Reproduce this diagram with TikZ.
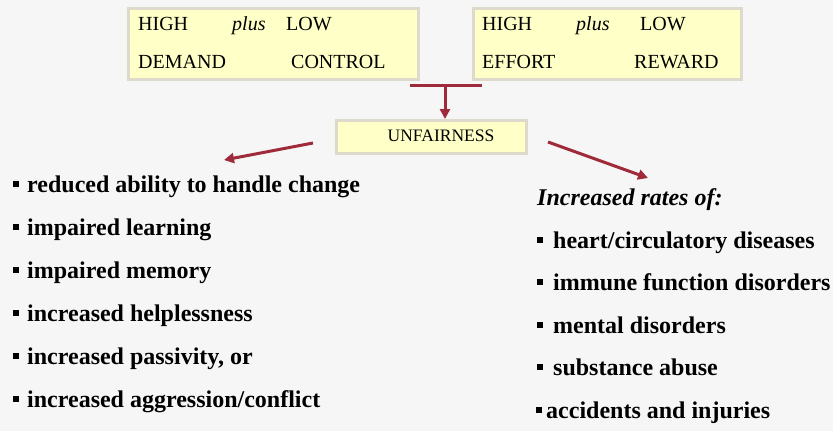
\documentclass[tikz,border=0pt]{standalone}
\usepackage{fontspec}
\setmainfont{Liberation Serif}
\usetikzlibrary{arrows.meta}
\definecolor{bgpaper}{HTML}{F6F6F6}
\definecolor{boxfill}{HTML}{FFFFC8}
\definecolor{boxedge}{HTML}{DEDACB}
\definecolor{linkred}{HTML}{9E2A3A}
\newcommand{\sqbullet}{\rule[5pt]{6pt}{6pt}}
\tikzset{
  x=1pt, y=-1pt,
  causebox/.style={draw=boxedge, line width=2.5pt, fill=boxfill, inner sep=0pt, anchor=north west},
  boxword/.style={anchor=base west, inner sep=0pt, font=\fontsize{20}{24}\selectfont},
  smallword/.style={anchor=center, inner sep=0pt, font=\fontsize{17.5}{21}\selectfont},
  item/.style={anchor=base west, inner sep=0pt, font=\fontsize{24}{28}\selectfont\bfseries},
  link/.style={draw=linkred, line width=3pt},
  linkarrow/.style={link, -{Triangle[length=10pt,width=10pt]}},
}
\begin{document}
\begin{tikzpicture}
\fill[bgpaper] (0,0) rectangle (833,431);
\useasboundingbox (0,0) rectangle (833,431);

% top boxes
\node[causebox, minimum width=290pt, minimum height=71pt] (dc) at (127,7) {};
\node[causebox, minimum width=268pt, minimum height=71pt] (er) at (472,7) {};

\node[boxword] (dchigh) at (138,30) {HIGH};
\node[boxword] (dcplus) at (232,30) {\itshape plus};
\node[boxword] (dclow) at (286,30) {LOW};
\node[boxword] (dcdemand) at (138,68) {DEMAND};
\node[boxword] (dccontrol) at (291,68) {CONTROL};

\node[boxword] (erhigh) at (482,30) {HIGH};
\node[boxword] (erplus) at (576,30) {\itshape plus};
\node[boxword] (erlow) at (640,30) {LOW};
\node[boxword] (ereffort) at (482,68) {EFFORT};
\node[boxword] (erreward) at (634,68) {REWARD};

% joining bar and drop arrow
\coordinate (barw) at (410,85);
\coordinate (bare) at (482,85);
\coordinate (barmid) at (445,85);
\node[causebox, minimum width=190pt, minimum height=33pt] (unf) at (335,119) {};
\node[smallword] (unftext) at (441,136) {UNFAIRNESS};
\draw[link] (barw) -- (bare);
\draw[linkarrow] (barmid) -- (barmid |- unf.north);

% branching arrows
\coordinate (lstart) at (313,143);
\coordinate (lend) at (224,160);
\coordinate (rstart) at (548,142);
\coordinate (rend) at (648,178);
\draw[linkarrow] (lstart) -- (lend);
\draw[linkarrow] (rstart) -- (rend);

% left list
\node[item] (l1) at (13,192) {\sqbullet\hspace{8pt}reduced ability to handle change};
\node[item] (l2) at (13,235) {\sqbullet\hspace{8pt}impaired learning};
\node[item] (l3) at (13,278) {\sqbullet\hspace{8pt}impaired memory};
\node[item] (l4) at (13,321) {\sqbullet\hspace{8pt}increased helplessness};
\node[item] (l5) at (13,364) {\sqbullet\hspace{8pt}increased passivity, or};
\node[item] (l6) at (13,407) {\sqbullet\hspace{8pt}increased aggression/conflict};

% right list
\node[item] (rhead) at (537,205) {\itshape Increased rates of:};
\node[item] (r1) at (537,248) {\sqbullet\hspace{10pt}heart/circulatory diseases};
\node[item] (r2) at (537,290) {\sqbullet\hspace{10pt}immune function disorders};
\node[item] (r3) at (537,333) {\sqbullet\hspace{10pt}mental disorders};
\node[item] (r4) at (537,375) {\sqbullet\hspace{10pt}substance abuse};
\node[item] (r5) at (536,418) {\sqbullet\hspace{4pt}accidents and injuries};
\end{tikzpicture}
\end{document}
